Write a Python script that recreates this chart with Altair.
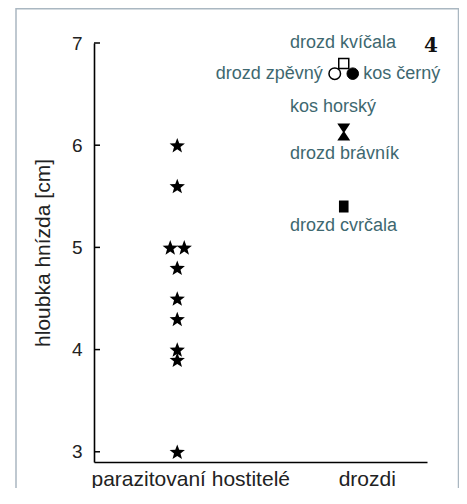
import math
import altair as alt
import pandas as pd

# ---------------- data ----------------
categories = ["parazitovaní hostitelé", "drozdi"]
host_depth = [6.0, 5.6, 5.0, 5.0, 4.8, 4.5, 4.3, 4.0, 3.9, 3.0]
thrush_names = ["drozd kvíčala", "drozd zpěvný", "kos černý", "kos horský", "drozd brávník", "drozd cvrčala"]
thrush_depth = [6.8, 6.7, 6.7, 6.13, 6.13, 5.4]
y_ticks = [3, 4, 5, 6, 7]
y_title = "hloubka hnízda [cm]"
panel_label = "4"

hosts = pd.DataFrame({"group": categories[0], "depth": host_depth})
thrush = pd.DataFrame({"group": categories[1], "name": thrush_names, "depth": thrush_depth})
ticks_df = pd.DataFrame({"depth": y_ticks})

# ---------------- styling ----------------
W, H = 333, 419
FONT = "Liberation Sans"
LBL = "#3e6870"
AX = "#222222"


def star_path(inner=0.42):
    pts = []
    for i in range(10):
        r = 1.0 if i % 2 == 0 else inner
        a = math.radians(-90 + 36 * i)
        pts.append((r * math.cos(a), r * math.sin(a) + 0.095))
    return "M" + "L".join(f"{x:.3f},{y:.3f}" for x, y in pts) + "Z"


STAR = star_path()
TRI_DOWN = "M-0.76,-1L0.76,-1L0.1,0L-0.1,0Z"
TRI_UP = "M-0.1,0L0.1,0L0.76,1L-0.76,1Z"
RECT = "M-0.8,-1L0.8,-1L0.8,1L-0.8,1Z"

xs = alt.Scale(domain=categories, type="point", padding=0.5)
ys = alt.Scale(domain=[2.9, 7], nice=False, zero=False)

X = alt.X(
    "group:N", scale=xs, sort=categories,
    axis=alt.Axis(
        title=None, ticks=False, tickSize=0, domainColor="black", domainWidth=1.6,
        labelFontSize=21, labelColor=AX, labelAngle=0, labelPadding=6, labelLimit=400,
        labelOffset={"condition": {"test": "datum.value === 'drozdi'", "value": 23}, "value": 13},
        grid=False,
    ),
)
Y = alt.Y(
    "depth:Q", scale=ys,
    axis=alt.Axis(
        values=y_ticks, ticks=False, tickSize=0, domainColor="black", domainWidth=1.6,
        labelFontSize=19, labelColor=AX, labelPadding=12, grid=False,
        title=y_title, titleFontSize=21, titleFontWeight="normal", titleColor=AX,
        titlePadding=18,
    ),
)

layers = []

# frame
frame = alt.Chart(pd.DataFrame({"a": [0]})).mark_rect(
    fillOpacity=0, stroke="#aab7c1", strokeWidth=1.5
).encode(x=alt.value(-78), x2=alt.value(364.5), y=alt.value(-34.25), y2=alt.value(480))
layers.append(frame)

# inward ticks on y axis
tick_rules = alt.Chart(ticks_df).mark_rule(color="black", strokeWidth=1.5).encode(
    y=Y, x=alt.value(0), x2=alt.value(6)
)
layers.append(tick_rules)

# host stars (identical depths placed side by side)
stars = (
    alt.Chart(hosts)
    .transform_window(rank="row_number()", groupby=["depth"])
    .transform_joinaggregate(n="count()", groupby=["depth"])
    .transform_calculate(off="(datum.rank - (datum.n + 1) / 2) * 14")
    .mark_point(shape=STAR, filled=True, color="black", size=260, opacity=1)
    .encode(x=X, y=Y, xOffset=alt.XOffset("off:Q", scale=None))
)
layers.append(stars)

# thrush markers
marker_style = {
    "drozd kvíčala": dict(shape="square", size=100, filled=False, stroke="black", strokeWidth=1.5, xOffset=0),
    "drozd zpěvný": dict(shape="circle", size=133, filled=True, fill="white", stroke="black", strokeWidth=1.5, xOffset=-9),
    "kos černý": dict(shape="circle", size=133, filled=True, fill="black", stroke="black", strokeWidth=1, xOffset=9),
    "kos horský": dict(shape=TRI_DOWN, size=289, filled=True, fill="black", strokeWidth=0, xOffset=0),
    "drozd brávník": dict(shape=TRI_UP, size=289, filled=True, fill="black", strokeWidth=0, xOffset=0),
    "drozd cvrčala": dict(shape=RECT, size=144, filled=True, fill="black", strokeWidth=0, xOffset=0),
}
label_style = {
    "drozd kvíčala": dict(align="left", dx=-53.75, dy=-15.7),
    "drozd zpěvný": dict(align="right", dx=-21, dy=5.6),
    "kos černý": dict(align="left", dx=19.5, dy=5.6),
    "kos horský": dict(align="left", dx=-53.75, dy=-20.2),
    "drozd brávník": dict(align="left", dx=-53.75, dy=27.4),
    "drozd cvrčala": dict(align="left", dx=-53.75, dy=24.5),
}

for name in thrush_names:
    st = marker_style[name]
    layers.append(
        alt.Chart(thrush).transform_filter(alt.datum.name == name)
        .mark_point(opacity=1, **st)
        .encode(x=X, y=Y)
    )

for name in thrush_names:
    st = label_style[name]
    layers.append(
        alt.Chart(thrush).transform_filter(alt.datum.name == name)
        .mark_text(font=FONT, fontSize=18, color=LBL, baseline="alphabetic", **st)
        .encode(x=X, y=Y, text="name:N")
    )

# panel number
layers.append(
    alt.Chart(pd.DataFrame({"t": [panel_label]})).mark_text(
        font="DejaVu Serif", fontSize=20, fontWeight="bold", color="#111111",
        align="center", baseline="alphabetic",
    ).encode(text="t:N", x=alt.value(337), y=alt.value(9))
)

chart = (
    alt.layer(*layers)
    .properties(
        width=W, height=H,
        autosize=alt.AutoSizeParams(type="none"),
        padding={"left": 86, "top": 35, "right": 32, "bottom": 26},
    )
    .configure(font=FONT)
    .configure_view(stroke=None)
)

chart.save("out.html", embed_options={"renderer": "svg", "actions": False})
